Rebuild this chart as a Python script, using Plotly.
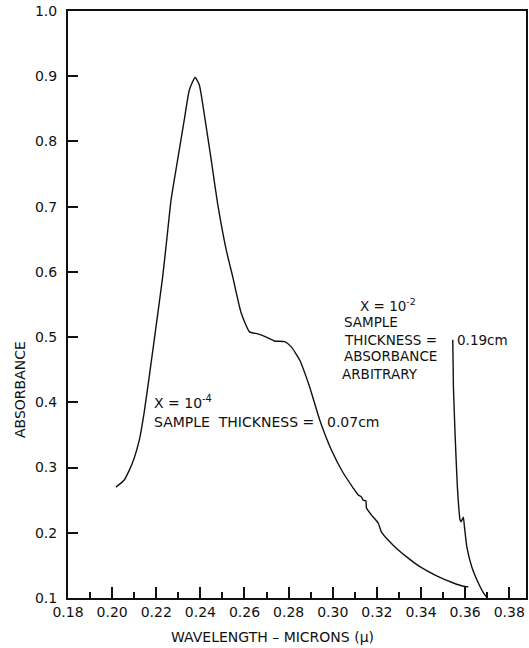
import plotly.graph_objects as go

# Curve 1: X = 1e-4, sample thickness 0.07 cm
wl1 = [0.2017, 0.2055, 0.2092, 0.2123, 0.2145, 0.2168, 0.2199, 0.2229, 0.2251, 0.2267,
       0.2297, 0.2327, 0.2350, 0.2376, 0.2395, 0.2418, 0.2449, 0.2479, 0.2517, 0.2547,
       0.2585, 0.2623, 0.2660, 0.2699, 0.2736, 0.2782, 0.2812, 0.2850, 0.2895, 0.2941,
       0.2994, 0.3047, 0.3092, 0.3115, 0.3130, 0.3138, 0.3150, 0.3153, 0.3176, 0.3206,
       0.3221, 0.3274, 0.3335, 0.3395, 0.3471, 0.3547, 0.3592, 0.3615]
ab1 = [0.270, 0.281, 0.307, 0.342, 0.384, 0.439, 0.516, 0.592, 0.660, 0.710,
       0.772, 0.833, 0.879, 0.898, 0.887, 0.841, 0.772, 0.703, 0.634, 0.592,
       0.537, 0.508, 0.505, 0.500, 0.494, 0.493, 0.485, 0.465, 0.424, 0.373,
       0.327, 0.292, 0.269, 0.258, 0.255, 0.250, 0.249, 0.238, 0.227, 0.215,
       0.201, 0.181, 0.163, 0.148, 0.134, 0.123, 0.118, 0.117]

# Curve 2: X = 1e-2, sample thickness 0.19 cm (absorbance arbitrary)
wl2 = [0.3544, 0.3547, 0.3555, 0.3565, 0.3577, 0.3582, 0.3592, 0.3597, 0.3608, 0.3630,
       0.3660, 0.3683, 0.3701]
ab2 = [0.496, 0.424, 0.347, 0.270, 0.220, 0.217, 0.224, 0.209, 0.178, 0.148,
       0.123, 0.108, 0.100]

x_ticks = [0.18, 0.20, 0.22, 0.24, 0.26, 0.28, 0.30, 0.32, 0.34, 0.36, 0.38]
x_ticktext = ["0.18", "0.20", "0.22", "0.24", "0.26", "0.28", "0.30", "0.32", "0.34", "0.36", "0.38"]
y_ticks = [0.1, 0.2, 0.3, 0.4, 0.5, 0.6, 0.7, 0.8, 0.9, 1.0]
y_ticktext = ["0.1", "0.2", "0.3", "0.4", "0.5", "0.6", "0.7", "0.8", "0.9", "1.0"]

FONT = "DejaVu Sans"
INK = "#111111"

fig = go.Figure()
fig.add_trace(go.Scatter(x=wl1, y=ab1, mode="lines",
                         line=dict(color=INK, width=1.4, shape="spline", smoothing=0.5),
                         showlegend=False, hoverinfo="skip"))
fig.add_trace(go.Scatter(x=wl2, y=ab2, mode="lines",
                         line=dict(color=INK, width=1.4, shape="spline", smoothing=0.4),
                         showlegend=False, hoverinfo="skip"))

fig.update_layout(
    width=529, height=648,
    margin=dict(l=68, r=3, t=11, b=50, autoexpand=False),
    paper_bgcolor="white", plot_bgcolor="white",
    font=dict(family=FONT, color=INK, size=13),
)
fig.update_xaxes(
    range=[0.18, 0.3876], tickvals=x_ticks, ticktext=x_ticktext,
    ticks="inside", ticklen=11, tickwidth=1.5, tickcolor=INK,
    minor=dict(dtick=0.01, tick0=0.18, ticks="inside", ticklen=6, tickwidth=1.5, tickcolor=INK, showgrid=False),
    showline=True, linecolor=INK, linewidth=2, mirror=True, automargin=False,
    showgrid=False, zeroline=False, tickfont=dict(size=14, family=FONT),
)
fig.update_yaxes(
    range=[0.1, 1.0], tickvals=y_ticks, ticktext=y_ticktext,
    ticks="inside", ticklen=10, tickwidth=1.5, tickcolor=INK,
    showline=True, linecolor=INK, linewidth=2, mirror=True, automargin=False,
    showgrid=False, zeroline=False, tickfont=dict(size=14, family=FONT),
    ticklabelstandoff=6,
)

def note(text, x, y, size=14):
    fig.add_annotation(text=text, x=x, y=y, xref="x", yref="y",
                       xanchor="left", yanchor="middle", showarrow=False,
                       font=dict(family=FONT, size=size, color=INK))

note("X = 10<sup>-4</sup>", 0.2181, 0.4006)
note("SAMPLE  THICKNESS =", 0.2181, 0.370)
note("0.07cm", 0.2965, 0.370)
note("X = 10<sup>-2</sup>", 0.3115, 0.549, 13.5)
note("SAMPLE", 0.3042, 0.523, 13.5)
note("THICKNESS =", 0.3042, 0.4957, 13.5)
note("0.19cm", 0.3554, 0.4957, 13.5)
note("ABSORBANCE", 0.3042, 0.471, 13.5)
note("ARBITRARY", 0.3033, 0.4436, 13.5)

# axis titles (paper coords are relative to the plot area: 458 x 587 px)
fig.add_annotation(text="WAVELENGTH – MICRONS (μ)", x=(272 - 68) / 458, y=(598 - 637) / 587,
                   xref="paper", yref="paper", xanchor="center", yanchor="middle",
                   showarrow=False, font=dict(family=FONT, size=14, color=INK))
fig.add_annotation(text="ABSORBANCE", x=(20 - 68) / 458, y=(598 - 390) / 587,
                   xref="paper", yref="paper", xanchor="center", yanchor="middle",
                   textangle=-90, showarrow=False, font=dict(family=FONT, size=14, color=INK))

# remove the default 8px page margin so the figure fills the window exactly
fig.write_html("out.html", config={"displayModeBar": False},
               post_script="document.body.style.margin='0';document.body.style.overflow='hidden';")
